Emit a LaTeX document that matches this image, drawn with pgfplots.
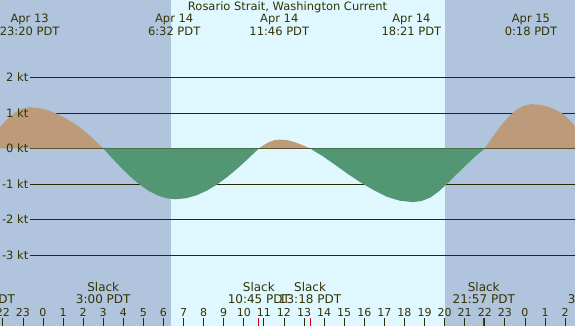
\documentclass[border=0pt]{standalone}
\usepackage{pgfplots}
\pgfplotsset{compat=1.18}
\usepackage{fontspec}
\setmainfont{DejaVu Sans}
\definecolor{night}{RGB}{176,196,222}
\definecolor{day}{RGB}{223,247,255}
\definecolor{flood}{RGB}{188,154,122}
\definecolor{ebb}{RGB}{82,150,116}
\definecolor{txt}{RGB}{51,51,0}
\definecolor{gridc}{RGB}{40,40,0}
\definecolor{slackred}{RGB}{220,0,0}
\newcommand\fs{\fontsize{11pt}{13pt}\selectfont}
\newcommand\ft{\fontsize{11.5pt}{13pt}\selectfont}
\newcommand\fb{\fontsize{12pt}{14pt}\selectfont}
\newcommand\toplab[3]{%
  \node[anchor=base, yshift=-23pt, font=\ft] at (axis cs:#1,4.183) {#2};
  \node[anchor=base, yshift=-35.5pt, font=\ft] at (axis cs:#1,4.183) {#3};}
\newcommand\slacklab[2]{%
  \node[anchor=base, yshift=34.5pt, font=\fb] at (axis cs:#1,-5) {Slack};
  \node[anchor=base, yshift=22pt, font=\fb] at (axis cs:#1,-5) {#2};
  \draw[slackred, line width=1pt] (axis cs:#1,-5) -- ++(0pt,8pt);}
\begin{document}
\begin{tikzpicture}[font=\fs, text=txt]
\begin{axis}[
  scale only axis, width=575pt, height=326pt,
  xmin=-2.141, xmax=26.494, ymin=-5, ymax=4.183,
  axis x line=bottom, axis y line=none, axis line style={draw=none},
  axis on top=true,
  xtick={-2,...,26},
  xticklabels={22,23,0,1,2,3,4,5,6,7,8,9,10,11,12,13,14,15,16,17,18,19,20,21,22,23,0,1,2},
  xtick align=inside, major tick length=8pt,
  xtick style={color=gridc, line width=0.8pt},
  xticklabel style={anchor=base, yshift=9.5pt, font=\fs, text=txt, inner sep=0pt},
  extra x ticks={0,24}, extra x tick labels={},
  extra x tick style={tick style={line width=3pt, color=gridc}},
]
% backgrounds (night / day)
\fill[night] (axis cs:-2.141,-5) rectangle (axis cs:6.375,4.183);
\fill[day] (axis cs:6.375,-5) rectangle (axis cs:20.02,4.183);
\fill[night] (axis cs:20.02,-5) rectangle (axis cs:26.494,4.183);
% grid lines
\pgfplotsinvokeforeach{-3,-2,-1,0,1,2}{
  \draw[gridc, line width=0.9pt] (axis cs:-0.647,#1) -- (axis cs:26.494,#1);
}
% flood (positive) areas
\addplot[fill=flood, draw=none] coordinates {
(-2.92,0) (-2.545,0.300) (-2.17,0.580) (-1.795,0.820) (-1.42,1.005) (-1.045,1.120)
(-0.67,1.16) (-0.211,1.140) (0.248,1.078) (0.706,0.975) (1.165,0.840) (1.624,0.680)
(2.083,0.490) (2.541,0.250) (3.0,0)} \closedcycle;
\addplot[fill=flood, draw=none] coordinates {
(10.75,0) (11.005,0.10) (11.26,0.180) (11.515,0.232) (11.80,0.25) (12.153,0.235)
(12.535,0.180) (12.918,0.096) (13.3,0)} \closedcycle;
\addplot[fill=flood, draw=none] coordinates {
(22.0,0) (22.39,0.324) (22.78,0.625) (23.17,0.884) (23.56,1.083) (23.95,1.207)
(24.34,1.25) (24.738,1.23) (25.135,1.18) (25.533,1.09) (25.93,0.96) (26.328,0.74)
(26.725,0.45) (26.725,0)} \closedcycle;
% ebb (negative) areas
\addplot[fill=ebb, draw=none] coordinates {
(3.0,0) (3.45,-0.279) (3.9,-0.547) (4.35,-0.794) (4.8,-1.011) (5.25,-1.189)
(5.7,-1.321) (6.15,-1.403) (6.6,-1.43) (7.119,-1.403) (7.638,-1.321) (8.156,-1.189)
(8.675,-1.011) (9.194,-0.794) (9.713,-0.547) (10.231,-0.279) (10.75,0)} \closedcycle;
\addplot[fill=ebb, draw=none] coordinates {
(13.3,0) (13.938,-0.22) (14.575,-0.47) (15.213,-0.73) (15.85,-0.97) (16.488,-1.18)
(17.125,-1.36) (17.763,-1.47) (18.4,-1.51) (18.85,-1.48) (19.3,-1.38) (19.75,-1.19)
(20.2,-0.95) (20.65,-0.70) (21.1,-0.45) (21.55,-0.21) (22.0,0)} \closedcycle;
% y labels (on top of the areas)
\pgfplotsinvokeforeach{-3,-2,-1,0,1,2}{
  \node[anchor=east, inner sep=1.5pt, font=\ft] at (axis cs:-0.647,#1) {#1 kt};
}
% title and maximum-current labels
\node[anchor=base, yshift=-11pt, font=\ft] at (axis cs:12.18,4.183) {Rosario Strait, Washington Current};
\toplab{-0.667}{Apr 13}{23:20 PDT}
\toplab{6.533}{Apr 14}{6:32 PDT}
\toplab{11.767}{Apr 14}{11:46 PDT}
\toplab{18.35}{Apr 14}{18:21 PDT}
\toplab{24.30}{Apr 15}{0:18 PDT}
% slack labels
\slacklab{-2.95}{21:03 PDT}
\slacklab{3.0}{3:00 PDT}
\slacklab{10.75}{10:45 PDT}
\slacklab{13.3}{13:18 PDT}
\slacklab{21.95}{21:57 PDT}
\slacklab{27.5}{3:30 PDT}
\end{axis}
\pgfresetboundingbox
\path (current axis.south west) rectangle (current axis.north east);
\end{tikzpicture}
\end{document}
